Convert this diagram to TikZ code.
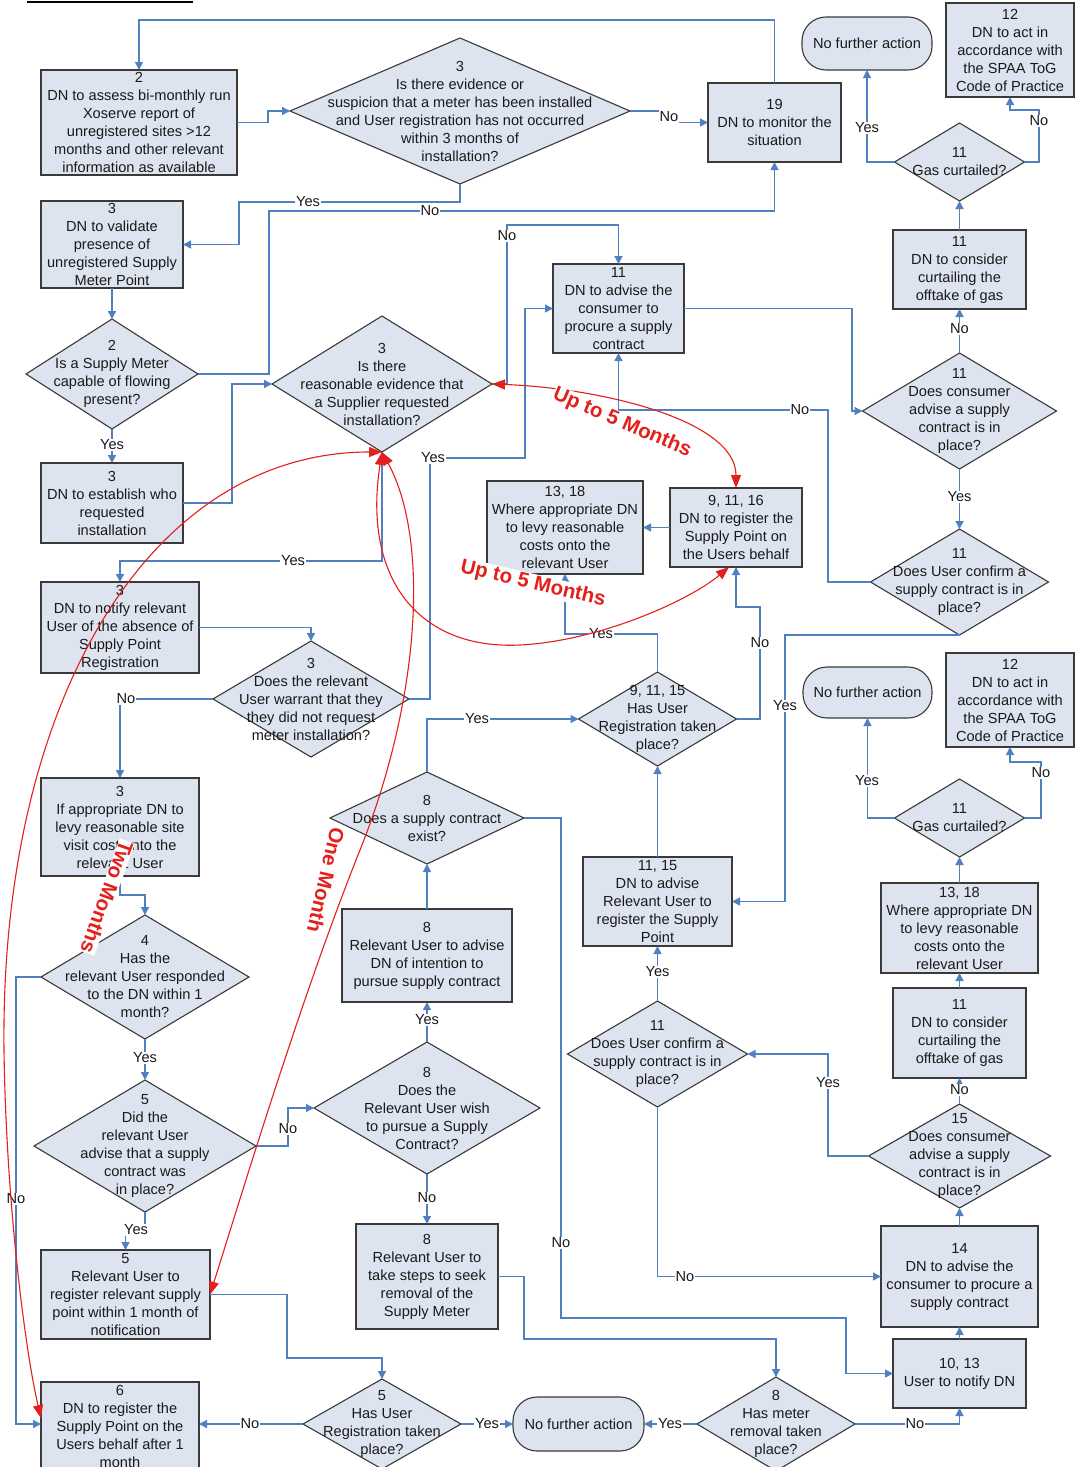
\documentclass[tikz,border=0pt]{standalone}
\usepackage{fontspec}
\setmainfont{Liberation Sans}
\usetikzlibrary{shapes.geometric,arrows.meta}
\definecolor{boxfill}{HTML}{DDE4EF}
\definecolor{boxline}{HTML}{3A3A3A}
\definecolor{linkblue}{HTML}{5080C0}
\definecolor{arrred}{HTML}{E3201B}
\definecolor{inktext}{HTML}{1A1A1A}
\newcommand{\mybox}[6]{\node[boxshape, minimum width={(#4-#2)*1pt}, minimum height={(#5-#3)*1pt}] (#1) at ({(#2+#4)/2},{(#3+#5)/2}) {};\node[txt] (#1t) at (#1.center) {#6};}
\newcommand{\myterm}[6]{\node[termshape, minimum width={(#4-#2)*1pt}, minimum height={(#5-#3)*1pt}] (#1) at ({(#2+#4)/2},{(#3+#5)/2}) {};\node[txt] (#1t) at (#1.center) {#6};}
\newcommand{\mydia}[6]{\node[diashape, minimum width={2*#4*1pt}, minimum height={2*#5*1pt}] (#1) at (#2,#3) {};\node[txt] (#1t) at (#1.center) {#6};}
\begin{document}
\begin{tikzpicture}[x=1pt,y=-1pt,
  boxshape/.style={rectangle, draw=boxline, fill=boxfill, line width=1.1pt, inner sep=0pt, outer sep=0pt},
  termshape/.style={rectangle, rounded corners=24pt, draw=boxline, fill=boxfill, line width=1.1pt, inner sep=0pt, outer sep=0pt},
  diashape/.style={diamond, draw=boxline, fill=boxfill, line width=1.1pt, inner sep=0pt, outer sep=0pt},
  txt/.style={align=center, inner sep=0pt, text=inktext, font=\fontsize{14.6}{18}\selectfont},
  conn/.style={draw=linkblue, line width=1.3pt, -{Triangle[length=8pt,width=8pt]}},
  lbl/.style={fill=white, inner sep=1pt, text=inktext, font=\fontsize{14.6}{17}\selectfont},
  redarr/.style={draw=arrred, line width=1.1pt, {Triangle[length=13pt,width=10pt]}-{Triangle[length=13pt,width=10pt]}},
  redlbl/.style={text=arrred, inner sep=0.5pt, font=\fontsize{20.5}{24}\selectfont\bfseries},
  redlblw/.style={redlbl, fill=white}]
\useasboundingbox (0,0) rectangle (1075,1467);
\clip (0,0) rectangle (1075,1467);
\fill[white] (0,0) rectangle (1075,1467);
\draw[line width=1.8pt] (27,2) -- (193,2);

% boxes
\mybox{b2}{41}{70}{237}{175}{2\\DN to assess bi-monthly run\\Xoserve report of\\unregistered sites >12\\months and other relevant\\information as available}
\mybox{b19}{708}{83}{841}{162}{19\\DN to monitor the\\situation}
\myterm{nfa1}{802}{17}{932}{70}{No further action}
\mybox{b12a}{946}{3}{1074}{97}{12\\DN to act in\\accordance with\\the SPAA ToG\\Code of Practice}
\mybox{b11ca}{893}{230}{1026}{309}{11\\DN to consider\\curtailing the\\offtake of gas}
\mybox{b3val}{41}{201}{183}{288}{3\\DN to validate\\presence of\\unregistered Supply\\Meter Point}
\mybox{b11adv}{553}{264}{684}{353}{11\\DN to advise the\\consumer to\\procure a supply\\contract}
\mybox{b3est}{41}{463}{183}{543}{3\\DN to establish who\\requested\\installation}
\mybox{b1318a}{487}{481}{643}{574}{13, 18\\Where appropriate DN\\to levy reasonable\\costs onto the\\relevant User}
\mybox{b91116}{670}{488}{802}{567}{9, 11, 16\\DN to register the\\Supply Point on\\the Users behalf}
\mybox{b3not}{41}{582}{199}{673}{3\\DN to notify relevant\\User of the absence of\\Supply Point\\Registration}
\myterm{nfa2}{803}{667}{932}{718}{No further action}
\mybox{b12b}{946}{653}{1074}{747}{12\\DN to act in\\accordance with\\the SPAA ToG\\Code of Practice}
\mybox{b1318b}{881}{883}{1038}{973}{13, 18\\Where appropriate DN\\to levy reasonable\\costs onto the\\relevant User}
\mybox{b11cb}{893}{988}{1026}{1078}{11\\DN to consider\\curtailing the\\offtake of gas}
\mybox{b8adv}{342}{909}{512}{1002}{8\\Relevant User to advise\\DN of intention to\\pursue supply contract}
\mybox{b1115}{583}{857}{732}{946}{11, 15\\DN to advise\\Relevant User to\\register the Supply\\Point}
\mybox{b3levy}{41}{778}{199}{876}{3\\If appropriate DN to\\levy reasonable site\\visit cost onto the\\relevant User}
\mybox{b5reg}{41}{1250}{210}{1339}{5\\Relevant User to\\register relevant supply\\point within 1 month of\\notification}
\mybox{b8rem}{356}{1224}{498}{1329}{8\\Relevant User to\\take steps to seek\\removal of the\\Supply Meter}
\mybox{b14}{881}{1226}{1038}{1327}{14\\DN to advise the\\consumer to procure a\\supply contract}
\mybox{b1013}{893}{1339}{1026}{1408}{10, 13\\User to notify DN}
\mybox{b6}{41}{1382}{199}{1470}{6\\DN to register the\\Supply Point on the\\Users behalf after 1\\month}
\myterm{nfa3}{513}{1397}{644}{1451}{No further action}

% decisions
\mydia{d3a}{460}{111}{170}{73}{3\\Is there evidence or\\suspicion that a meter has been installed\\and User registration has not occurred\\within 3 months of\\installation?}
\mydia{d2}{112}{374}{86}{55}{2\\Is a Supply Meter\\capable of flowing\\present?}
\mydia{d3b}{382}{384}{110}{68}{3\\Is there\\reasonable evidence that\\a Supplier requested\\installation?}
\mydia{d11a1}{959.5}{411}{97}{58}{11\\Does consumer\\advise a supply\\contract is in\\place?}
\mydia{d11cf1}{959.5}{582}{89}{53}{11\\Does User confirm a\\supply contract is in\\place?}
\mydia{d11g1}{959.5}{162}{65}{39}{11\\Gas curtailed?}
\mydia{d3w}{311}{699}{98}{58}{3\\Does the relevant\\User warrant that they\\they did not request\\meter installation?}
\mydia{d91115}{657.5}{719}{79}{47}{9, 11, 15\\Has User\\Registration taken\\place?}
\mydia{d11g2}{959.5}{818}{65}{39}{11\\Gas curtailed?}
\mydia{d8ex}{427}{818}{97}{46}{8\\Does a supply contract\\exist?}
\mydia{d4}{145}{977}{104}{62}{4\\Has the\\relevant User responded\\to the DN within 1\\month?}
\mydia{d11cf2}{657.5}{1054}{90}{53}{11\\Does User confirm a\\supply contract is in\\place?}
\mydia{d5did}{145}{1146}{111}{66}{5\\Did the\\relevant User\\advise that a supply\\contract was\\in place?}
\mydia{d8wish}{427}{1108}{113}{66}{8\\Does the\\Relevant User wish\\to pursue a Supply\\Contract?}
\mydia{d15}{959.5}{1156}{91}{52}{15\\Does consumer\\advise a supply\\contract is in\\place?}
\mydia{d5has}{382}{1424}{79}{45}{5\\Has User\\Registration taken\\place?}
\mydia{d8rem}{776}{1424}{79}{47}{8\\Has meter\\removal taken\\place?}

% connectors
\draw[conn] (b19.north) |- (139,20) -- (b2.north);
\draw[conn] (b2.east) -- (268,122.5) |- (d3a.west);
\draw[conn] (d3a.east) -- (669,111) |- (b19.west);
\draw[conn] (d3a.south) |- (239,202) |- (b3val.east);
\draw[conn] (d2.east) -| (269,211) -| (b19.south);
\draw[conn] (b3val.south) -- (d2.north);
\draw[conn] (d2.south) -- (b3est.north);
\draw[conn] (b3est.east) -| (232,384) -- (d3b.west);
\draw[conn] (d3b.east) -| (507,225) -| (b11adv.north);
\draw[conn] (d3b.south) |- (120,561) -- (b3not.north);
\draw[conn] (d3w.east) -| (430,458) -| (525,308.5) -- (b11adv.west);
\draw[conn] (d11cf1.west) -| (828,410) -| (b11adv.south);
\draw[conn] (b11adv.east) -| (852,411) -- (d11a1.west);
\draw[conn] (d11a1.south) -- (d11cf1.north);
\draw[conn] (d11a1.north) -- (b11ca.south);
\draw[conn] (b11ca.north) -- (d11g1.south);
\draw[conn] (d11g1.west) -| (nfa1.south);
\draw[conn] (d11g1.east) -| (1039,110) -| (b12a.south);
\draw[conn] (d11cf1.south) -| (785,901.5) -- (b1115.east);
\draw[conn] (b91116.west) -- (b1318a.east);
\draw[conn] (d91115.north) |- (565,634) -- (b1318a.south);
\draw[conn] (d91115.east) -| (760,607) -| (b91116.south);
\draw[conn] (b1115.north) -- (d91115.south);
\draw[conn] (d11cf2.north) -- (b1115.south);
\draw[conn] (d8ex.north) |- (d91115.west);
\draw[conn] (d8ex.east) -| (561,1318) -| (846,1373.5) -- (b1013.west);
\draw[conn] (b8adv.north) -- (d8ex.south);
\draw[conn] (d8wish.north) -- (b8adv.south);
\draw[conn] (d8wish.south) -- (b8rem.north);
\draw[conn] (b8rem.east) -| (524,1339) -| (d8rem.north);
\draw[conn] (d11cf2.south) |- (b14.west);
\draw[conn] (d15.west) -| (828,1054) -- (d11cf2.east);
\draw[conn] (d15.north) -- (b11cb.south);
\draw[conn] (b11cb.north) -- (b1318b.south);
\draw[conn] (b1318b.north) -- (d11g2.south);
\draw[conn] (d11g2.west) -| (nfa2.south);
\draw[conn] (d11g2.east) -| (1041,762) -| (b12b.south);
\draw[conn] (b14.north) -- (d15.south);
\draw[conn] (b1013.north) -- (b14.south);
\draw[conn] (d8rem.east) -| (b1013.south);
\draw[conn] (d8rem.west) -- (nfa3.east);
\draw[conn] (d5has.east) -- (nfa3.west);
\draw[conn] (d5has.west) -- (b6.east |- d5has.west);
\draw[conn] (b5reg.east) -| (287,1358) -| (d5has.north);
\draw[conn] (d5did.south) |- (125.5,1230) -- (b5reg.north);
\draw[conn] (d5did.east) -| (288,1108) -- (d8wish.west);
\draw[conn] (d4.south) -- (d5did.north);
\draw[conn] (d4.west) -| (16,1424) -- (b6.west |- d5has.west);
\draw[conn] (d3w.west) -| (b3levy.north);
\draw[conn] (b3levy.south) |- (145,895) -- (d4.north);
\draw[conn] (b3not.east) -| (d3w.north);

% connector labels
\node[lbl] (lA) at (308,202) {Yes};
\node[lbl] (lB) at (430,211) {No};
\node[lbl] (lC) at (669,116.5) {No};
\node[lbl] (lD) at (867,128) {Yes};
\node[lbl] (lE) at (1039,121) {No};
\node[lbl] (lF) at (959.5,329) {No};
\node[lbl] (lG) at (959.5,497) {Yes};
\node[lbl] (lH) at (507,236) {No};
\node[lbl] (lI) at (800,410) {No};
\node[lbl] (lJ) at (112,445) {Yes};
\node[lbl] (lK) at (433,458) {Yes};
\node[lbl] (lL) at (293,561) {Yes};
\node[lbl] (lM) at (601,634) {Yes};
\node[lbl] (lN) at (760,643) {No};
\node[lbl] (lO) at (126,699) {No};
\node[lbl] (lP) at (785,706) {Yes};
\node[lbl] (lQ) at (477,719) {Yes};
\node[lbl] (lR) at (867,781) {Yes};
\node[lbl] (lS) at (1041,773) {No};
\node[lbl] (lT) at (657.5,972) {Yes};
\node[lbl] (lU) at (427,1020) {Yes};
\node[lbl] (lV) at (145,1058) {Yes};
\node[lbl] (lW) at (828,1083) {Yes};
\node[lbl] (lX) at (959.5,1090) {No};
\node[lbl] (lY) at (288,1129) {No};
\node[lbl] (lZ) at (16,1199) {No};
\node[lbl] (la) at (427,1198) {No};
\node[lbl] (lb) at (136,1230) {Yes};
\node[lbl] (lc) at (561,1243) {No};
\node[lbl] (ld) at (685,1276.5) {No};
\node[lbl] (le) at (250,1424) {No};
\node[lbl] (lf) at (487,1424) {Yes};
\node[lbl] (lg) at (670,1424) {Yes};
\node[lbl] (lh) at (915,1424) {No};

% red timing arrows
\coordinate (r2end) at (729,567);
\coordinate (r3end) at (41,1418);
\draw[redarr] (d3b.east) .. controls (600,388) and (736,420) .. (b91116.north);
\draw[redarr] (d3b.south) .. controls (362,580) and (420,650) .. (520,645) .. controls (600,641) and (690,600) .. (r2end);
\draw[redarr] (d3b.south) .. controls (150,452) and (0,700) .. (4,1050) .. controls (6,1200) and (25,1350) .. (r3end);
\draw[redarr] (d3b.south) .. controls (430,540) and (420,700) .. (360,850) .. controls (300,1000) and (240,1200) .. (b5reg.east);
\node[redlblw, rotate=-23] (t5a) at (622,423) {Up to 5 Months};
\node[redlblw, rotate=-13] (t5b) at (533,584) {Up to 5 Months};
\node[redlblw, rotate=-110] (t2m) at (107,897) {Two Months};
\node[redlbl, rotate=-103] (t1m) at (326,880) {One Month};
\end{tikzpicture}
\end{document}
